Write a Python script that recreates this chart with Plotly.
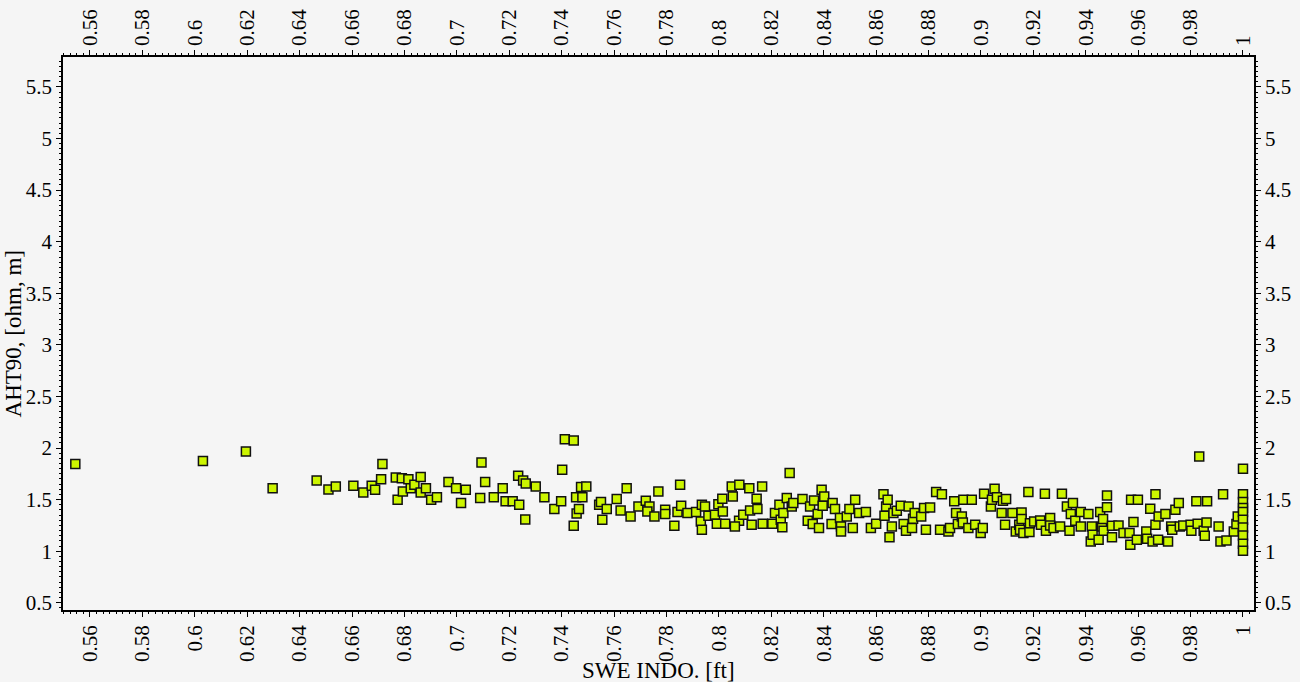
import plotly.graph_objects as go

swe = [
0.5544,0.6031,0.6195,0.6297,0.6465,0.6510,0.6538,0.6605,
0.6643,0.6675,0.6688,0.6711,0.6716,0.6767,0.6774,0.6794,0.6790,0.6815,0.6824,0.6838,
0.6862,0.6862,0.6882,0.6902,0.6924,0.6968,0.6997,0.7034,0.7016,0.7094,0.7108,0.7089,
0.7141,0.7175,0.7186,0.7213,0.7238,0.7234,0.7253,0.7263,0.7261,0.7301,0.7334,0.7372,
0.7398,0.7402,0.7412,0.7446,0.7446,0.7457,0.7466,0.7455,0.7479,0.7474,0.7494,0.7543,
0.7550,0.7572,0.7555,0.7610,0.7625,0.7648,0.7663,0.7693,0.7721,0.7735,0.7727,0.7754,
0.7769,
0.7795,0.7795,0.7830,0.7842,0.7852,0.7856,0.7880,0.7913,0.7935,0.7931,0.7935,0.7947,
0.7960,0.7985,0.7992,0.7998,0.8013,0.8024,0.8015,0.8049,0.8053,0.8078,0.8077,0.8061,
0.8093,0.8116,0.8119,0.8125,0.8144,0.8147,0.8165,0.8167,0.8204,0.8214,0.8231,0.8236,
0.8242,0.8246,0.8259,0.8270,0.8278,0.8284,0.8319,0.8339,0.8348,0.8358,0.8363,0.8377,
0.8382,0.8392,0.8396,0.8402,0.8430,0.8434,0.8443,0.8462,0.8466,0.8466,0.8488,0.8498,
0.8511,0.8520,0.8535,0.8561,0.8580,0.8600,0.8628,0.8632,0.8638,0.8644,0.8651,0.8660,
0.8666,0.8679,0.8694,0.8705,0.8714,0.8724,0.8737,0.8741,0.8747,0.8772,0.8783,0.8790,
0.8806,0.8829,0.8851,0.8844,0.8876,0.8882,0.8898,0.8905,0.8912,
0.8933,0.8965,0.8927,0.8931,0.8952,0.8978,0.8999,0.9007,0.9012,0.9038,0.9042,0.9052,
0.9061,0.9084,0.9096,0.9079,0.9092,0.9120,0.9133,0.9146,0.9155,0.9155,0.9149,0.9162,
0.9181,0.9185,0.9187,0.9203,0.9226,0.9229,0.9244,0.9248,0.9264,0.9264,0.9277,0.9302,
0.9309,0.9328,0.9338,0.9343,0.9351,0.9360,0.9381,0.9381,0.9410,0.9419,0.9423,0.9426,
0.9449,0.9455,0.9462,0.9466,0.9468,0.9481,0.9481,0.9500,0.9500,0.9525,0.9544,0.9567,
0.9570,0.9573,0.9582,0.9595,0.9599,0.9631,0.9634,0.9646,0.9655,0.9666,0.9666,0.9676,
0.9678,0.9704,0.9714,0.9726,0.9730,0.9742,0.9755,0.9759,0.9772,0.9800,0.9803,0.9822,
0.9827,0.9833,0.9850,0.9854,0.9861,0.9863,0.9907,0.9914,0.9924,0.9937,0.9965,0.9975,
0.9980,1.0000,1.0000,1.0000,1.0000,1.0000,1.0000,1.0000,1.0000,1.0000,1.0000,
]

aht90 = [
1.844,1.873,1.966,1.611,1.685,1.598,1.627,1.634,
1.569,1.634,1.595,1.698,1.844,1.714,1.498,1.579,1.708,1.698,1.611,1.643,
1.718,1.569,1.611,1.498,1.524,1.670,1.611,1.595,1.466,1.860,1.670,1.515,
1.524,1.611,1.483,1.483,1.450,1.731,1.685,1.657,1.308,1.627,1.524,1.408,
1.483,1.789,2.086,2.073,1.246,1.365,1.408,1.524,1.524,1.621,1.627,1.450,
1.476,1.408,1.304,1.505,1.395,1.611,1.337,1.434,1.489,1.434,1.385,1.337,
1.579,
1.401,1.360,1.246,1.379,1.643,1.440,1.369,1.379,1.450,1.289,1.207,1.434,
1.343,1.353,1.266,1.456,1.508,1.266,1.385,1.627,1.530,1.643,1.295,1.240,
1.353,1.611,1.395,1.256,1.508,1.408,1.627,1.266,1.266,1.369,1.450,1.304,
1.233,1.369,1.515,1.757,1.434,1.466,1.505,1.295,1.434,1.263,1.492,1.360,
1.224,1.595,1.440,1.530,1.263,1.466,1.408,1.321,1.240,1.192,1.337,1.408,
1.224,1.498,1.369,1.379,1.224,1.266,1.553,1.343,1.434,1.498,1.134,1.240,
1.369,1.392,1.440,1.263,1.198,1.434,1.224,1.314,1.369,1.337,1.418,1.207,
1.424,1.573,1.553,1.207,1.192,1.224,1.483,1.369,1.263,
1.498,1.498,1.337,1.279,1.224,1.256,1.176,1.224,1.556,1.434,1.498,1.605,
1.524,1.489,1.505,1.369,1.256,1.369,1.192,1.256,1.376,1.311,1.207,1.176,
1.573,1.185,1.272,1.289,1.298,1.256,1.556,1.198,1.321,1.250,1.224,1.240,
1.556,1.434,1.198,1.360,1.466,1.295,1.379,1.240,1.360,1.094,1.240,1.159,
1.111,1.379,1.240,1.311,1.198,1.540,1.427,1.246,1.136,1.250,1.176,1.176,
1.062,1.498,1.282,1.111,1.498,1.192,1.120,1.411,1.094,1.553,1.256,1.111,
1.337,1.360,1.094,1.240,1.207,1.401,1.466,1.240,1.250,1.256,1.198,1.483,
1.266,1.918,1.198,1.150,1.279,1.483,1.240,1.094,1.553,1.104,1.192,1.263,
1.337,1.798,1.553,1.476,1.418,1.379,1.304,1.230,1.152,1.072,1.004,
]

x_title = "SWE INDO. [ft]"
y_title = "AHT90, [ohm, m]"
x_range = [0.5497, 1.0042]
y_range = [0.43, 5.79]

FONT = "Liberation Serif"
BG = "rgb(245,245,245)"
TICKSIZE = 21
TITLESIZE = 23

fig = go.Figure()
fig.add_trace(go.Scatter(
    x=swe, y=aht90, mode="markers",
    marker=dict(symbol="square", size=9, color="#ccf500",
                line=dict(color="#111111", width=1.5)),
    showlegend=False, hoverinfo="x+y",
))

common_x = dict(range=x_range, dtick=0.02, tick0=0.56, tickangle=-90,
                ticks="outside", ticklen=5, tickcolor="black", tickwidth=1,
                showgrid=False, zeroline=False, automargin=False,
                showline=True, linecolor="black", linewidth=1.5,
                tickfont=dict(family=FONT, size=TICKSIZE, color="black"),
                minor=dict(dtick=0.0025, ticklen=2, tickcolor="black", ticks="outside", showgrid=False))
common_y = dict(range=y_range, dtick=0.5, tick0=0.5,
                ticks="outside", ticklen=5, tickcolor="black", tickwidth=1,
                showgrid=False, zeroline=False, automargin=False,
                showline=True, linecolor="black", linewidth=1.5,
                tickfont=dict(family=FONT, size=TICKSIZE, color="black"),
                minor=dict(dtick=0.05, ticklen=2, tickcolor="black", ticks="outside", showgrid=False))

fig.update_layout(
    width=1300, height=682,
    paper_bgcolor=BG, plot_bgcolor=BG,
    margin=dict(l=63, r=46, t=57, b=72),
    xaxis=dict(**common_x, side="bottom"),
    xaxis2=dict(**common_x, side="top", overlaying="x"),
    yaxis=dict(**common_y, side="left"),
    yaxis2=dict(**common_y, side="right", overlaying="y"),
    annotations=[
        dict(text=x_title, xref="paper", yref="paper", x=0.5, y=-0.1085,
             xanchor="center", yanchor="middle", showarrow=False,
             font=dict(family=FONT, size=TITLESIZE, color="black")),
        dict(text=y_title, xref="paper", yref="paper", x=-0.0412, y=0.5,
             xanchor="center", yanchor="middle", showarrow=False, textangle=-90,
             font=dict(family=FONT, size=TITLESIZE, color="black")),
    ],
)

# invisible trace to anchor secondary axes
fig.add_trace(go.Scatter(x=[x_range[0]], y=[y_range[0]], xaxis="x2", yaxis="y2",
                         mode="markers", marker=dict(opacity=0), showlegend=False, hoverinfo="skip"))

fig.write_html("out.html", config={"displayModeBar": False},
               post_script="document.body.style.margin='0';document.body.style.padding='0';document.body.style.overflow='hidden';")
